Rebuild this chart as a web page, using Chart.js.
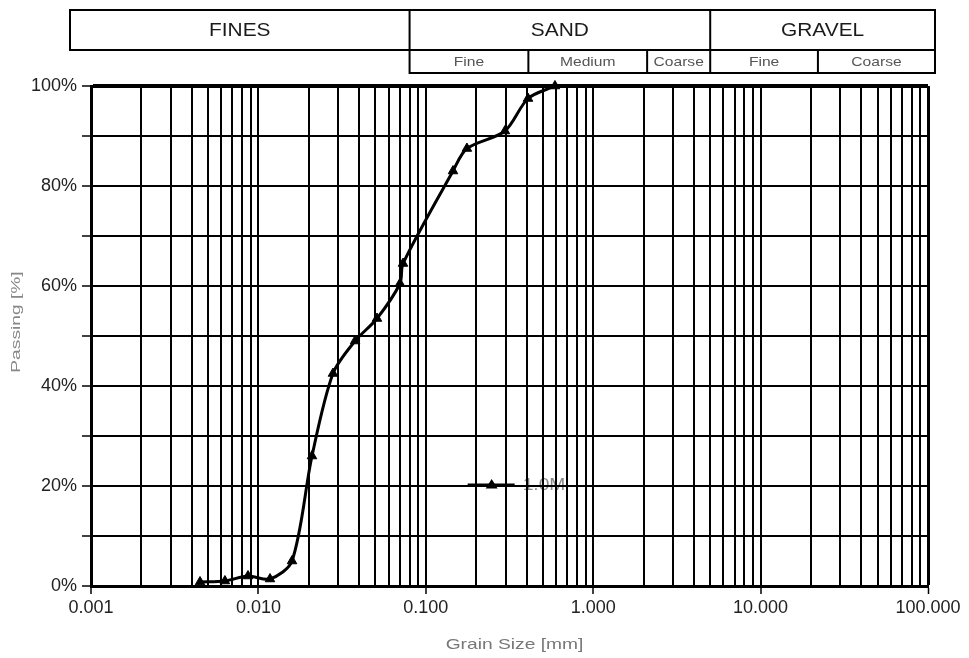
<!DOCTYPE html>
<html>
<head>
<meta charset="utf-8">
<script src="https://cdn.jsdelivr.net/npm/chart.js@4.4.1/dist/chart.umd.min.js"></script>
<style>
html, body { margin: 0; background: #fff; }
#wrap { width: 969px; height: 658px; position: relative; }
</style>
</head>
<body>
<div id="wrap"><canvas id="psd"></canvas></div>
<script>
// grain size distribution
const grainSize = [0.00448, 0.00631, 0.00867, 0.01173, 0.01588, 0.0209, 0.0279, 0.0378, 0.0511, 0.0701, 0.0731, 0.1454, 0.176, 0.297, 0.408, 0.591];
const passing = [0.8, 1.0, 2.0, 1.4, 5.0, 26, 42.5, 49, 53.5, 60.5, 64.5, 83, 87.5, 91, 97.5, 100];
const seriesLabel = '1.0M';

const xDecades = [0.001, 0.01, 0.1, 1, 10, 100];
const xTickLabels = ['0.001', '0.010', '0.100', '1.000', '10.000', '100.000'];
const yTickLabels = ['0%', '20%', '40%', '60%', '80%', '100%'];

const soilGroups = ['FINES', 'SAND', 'GRAVEL'];
const groupLimits = [0.08, 5];             // mm
const subGroups = ['Fine', 'Medium', 'Coarse', 'Fine', 'Coarse'];
const subLimits = [0.08, 0.41, 2.1, 5, 22]; // mm

const FONT = '"Liberation Sans", Arial, sans-serif';

function isDecade(v) {
    return xDecades.some(d => Math.abs(v - d) / d < 1e-6);
}

function stretchedText(ctx, text, x, y, sx, rot) {
    ctx.save();
    ctx.translate(x, y);
    if (rot) ctx.rotate(rot);
    ctx.scale(sx, 1);
    ctx.fillText(text, 0, 0);
    ctx.restore();
}

const headerPlugin = {
    id: 'header',
    afterDraw(chart) {
        const { ctx, chartArea: a } = chart;
        const xs = chart.scales.x;
        const left = a.left - 21, right = a.right + 7;
        const y0 = a.top - 76, y1 = a.top - 36, y2 = a.top - 13;
        const gx = [left, ...groupLimits.map(v => xs.getPixelForValue(v)), right];
        const sx = [...subLimits.map(v => xs.getPixelForValue(v)), right];

        ctx.save();
        ctx.strokeStyle = '#000';
        ctx.lineWidth = 2;
        ctx.strokeRect(left, y0, right - left, y1 - y0);
        ctx.beginPath();
        gx.slice(1, -1).forEach(x => { ctx.moveTo(x, y0); ctx.lineTo(x, y1); });
        ctx.stroke();
        ctx.strokeRect(sx[0], y1, right - sx[0], y2 - y1);
        ctx.beginPath();
        sx.slice(1, -1).forEach(x => { ctx.moveTo(x, y1); ctx.lineTo(x, y2); });
        ctx.stroke();

        ctx.textAlign = 'center';
        ctx.textBaseline = 'middle';
        ctx.fillStyle = '#1a1a1a';
        ctx.font = '19px ' + FONT;
        soilGroups.forEach((t, i) => stretchedText(ctx, t, (gx[i] + gx[i + 1]) / 2, (y0 + y1) / 2 + 1, 1.1));
        ctx.fillStyle = '#555';
        ctx.font = '13px ' + FONT;
        subGroups.forEach((t, i) => stretchedText(ctx, t, (sx[i] + sx[i + 1]) / 2, (y1 + y2) / 2 + 1, 1.2));
        ctx.restore();
    }
};

const titlesPlugin = {
    id: 'titles',
    afterDraw(chart) {
        const { ctx, chartArea: a } = chart;
        ctx.save();
        ctx.fillStyle = '#888';
        ctx.textAlign = 'center';
        ctx.textBaseline = 'middle';
        ctx.font = '12px ' + FONT;
        stretchedText(ctx, 'Passing [%]', 17, a.top + 236, 1.6, -Math.PI / 2);
        ctx.fillStyle = '#777';
        ctx.font = '15px ' + FONT;
        stretchedText(ctx, 'Grain Size [mm]', (a.left + a.right) / 2 + 5, a.bottom + 59, 1.28);
        ctx.restore();
    }
};

// legend sits inside the plot, under the grid
const legendPlugin = {
    id: 'inlineLegend',
    beforeDraw(chart) {
        const { ctx, chartArea: a } = chart;
        const ds = chart.data.datasets[0];
        const x0 = a.left + 0.45 * (a.right - a.left);
        const y = a.top + 0.798 * (a.bottom - a.top);
        ctx.save();
        ctx.strokeStyle = '#000';
        ctx.lineWidth = 3;
        ctx.beginPath();
        ctx.moveTo(x0, y);
        ctx.lineTo(x0 + 47, y);
        ctx.stroke();
        const cx = x0 + 24, r = 6;
        ctx.fillStyle = '#000';
        ctx.beginPath();
        ctx.moveTo(cx, y - r);
        ctx.lineTo(cx + r, y + r * 0.6);
        ctx.lineTo(cx - r, y + r * 0.6);
        ctx.closePath();
        ctx.fill();
        ctx.fillStyle = '#888';
        ctx.font = '16px ' + FONT;
        ctx.textBaseline = 'middle';
        ctx.textAlign = 'left';
        stretchedText(ctx, ds.label, x0 + 55, y + 1, 1.2);
        ctx.restore();
    }
};

new Chart(document.getElementById('psd'), {
    type: 'line',
    data: {
        datasets: [{
            label: seriesLabel,
            data: grainSize.map((d, i) => ({ x: d, y: passing[i] })),
            borderColor: '#000',
            backgroundColor: '#000',
            borderWidth: 3,
            pointStyle: 'triangle',
            pointRadius: 5.5,
            pointBorderWidth: 1,
            tension: 0.3,
            fill: false,
            clip: 6
        }]
    },
    options: {
        responsive: true,
        maintainAspectRatio: false,
        animation: false,
        layout: { padding: { left: 0, top: 86, right: 41, bottom: 0 } },
        plugins: { legend: { display: false }, tooltip: { enabled: false } },
        scales: {
            x: {
                type: 'logarithmic',
                min: 0.001,
                max: 100,
                afterBuildTicks(scale) {
                    const t = [];
                    xDecades.forEach((d, i) => {
                        if (i < xDecades.length - 1) {
                            for (let m = 1; m <= 9; m++) t.push({ value: d * m });
                        } else {
                            t.push({ value: d });
                        }
                    });
                    scale.ticks = t;
                },
                afterFit(scale) { scale.height = 72; },
                ticks: {
                    autoSkip: false,
                    maxRotation: 0,
                    padding: 3,
                    color: '#222',
                    font: { family: FONT, size: 18 },
                    callback(value) {
                        const i = xDecades.findIndex(d => Math.abs(value - d) / d < 1e-6);
                        return i >= 0 ? xTickLabels[i] : '';
                    }
                },
                grid: {
                    color: '#000',
                    lineWidth: ctx => (ctx.tick && Math.abs(ctx.tick.value - 100) < 1e-6) ? 3 : 2,
                    tickLength: 8,
                    tickColor: ctx => (ctx.tick && isDecade(ctx.tick.value)) ? '#000' : 'rgba(0,0,0,0)',
                    tickWidth: 1.5
                },
                border: { color: '#000', width: 3 }
            },
            y: {
                min: 0,
                max: 100,
                afterFit(scale) { scale.width = 91; },
                ticks: {
                    stepSize: 10,
                    padding: 5,
                    color: '#222',
                    font: { family: FONT, size: 18 },
                    callback(value) {
                        return value % 20 === 0 ? yTickLabels[value / 20] : '';
                    }
                },
                grid: {
                    color: '#000',
                    lineWidth: ctx => (ctx.tick && ctx.tick.value === 100) ? 4 : 2,
                    tickLength: 9,
                    tickColor: '#000',
                    tickWidth: 1.5
                },
                border: { color: '#000', width: 3 }
            }
        }
    },
    plugins: [legendPlugin, headerPlugin, titlesPlugin]
});
</script>
</body>
</html>
